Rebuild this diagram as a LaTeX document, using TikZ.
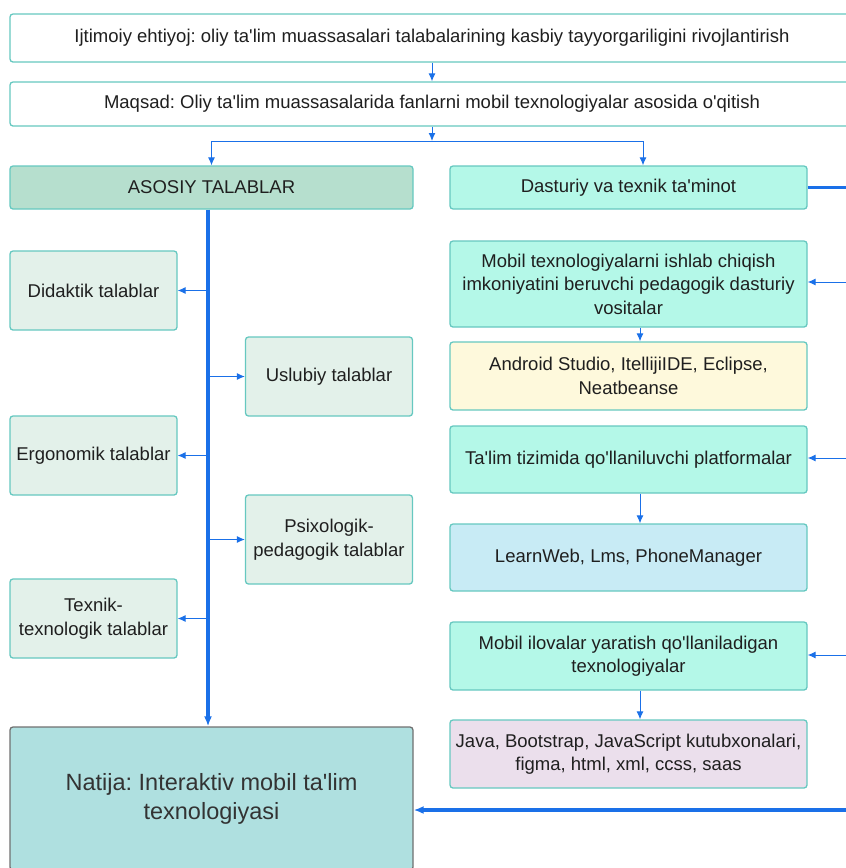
\documentclass[tikz,border=0pt]{standalone}
\usepackage{fontspec}
\setmainfont{Liberation Sans}[Ligatures=TeXOff]
\usetikzlibrary{positioning,arrows.meta}
\frenchspacing

\definecolor{tealline}{RGB}{102,200,192}
\definecolor{asosfill}{RGB}{182,223,206}
\definecolor{mintfill}{RGB}{180,248,232}
\definecolor{reqfill}{RGB}{227,241,234}
\definecolor{yellowfill}{RGB}{254,249,220}
\definecolor{skyfill}{RGB}{200,235,245}
\definecolor{lilacfill}{RGB}{235,223,236}
\definecolor{resfill}{RGB}{175,224,224}
\definecolor{resline}{RGB}{112,112,112}
\definecolor{linkblue}{RGB}{26,112,232}

\begin{document}
\begin{tikzpicture}[
  x=1pt, y=-1pt,
  every node/.style={font=\fontsize{18.5}{23.5}\selectfont, text=black!88},
  box/.style={draw=tealline, line width=1.3pt, rounded corners=3pt, align=center, inner sep=2pt},
  topbox/.style={box, fill=white, minimum width=844pt, minimum height=48pt},
  headbox/.style={box, minimum height=43pt},
  reqbox/.style={box, fill=reqfill, minimum width=167pt, minimum height=79pt},
  techbox/.style={box, minimum width=357pt, minimum height=68pt},
  arr/.style={-{Latex[length=8pt,width=7pt]}, line width=1pt, draw=linkblue},
  spine/.style={line width=3.2pt, draw=linkblue},
  spinearr/.style={spine, -{Latex[length=10pt,width=8pt]}}
]
\useasboundingbox (0,0) rectangle (846,868);
\clip (0,0) rectangle (846,868);

% Top: need and goal
\node[topbox] (need) at (432,38) {Ijtimoiy ehtiyoj: oliy ta'lim muassasalari talabalarining kasbiy tayyorgariligini rivojlantirish};
\node[topbox, below=18.7pt of need, minimum height=44pt] (goal) {Maqsad: Oliy ta'lim muassasalarida fanlarni mobil texnologiyalar asosida o'qitish};
\coordinate (split) at (432,141);

% Two main branches
\node[headbox, fill=asosfill, minimum width=403pt] (asosiy) at (211.5,187.5) {ASOSIY TALABLAR};
\node[headbox, fill=mintfill, right=35.7pt of asosiy, minimum width=357pt] (dastur) {Dasturiy va texnik ta'minot};

% Left column: requirements
\node[reqbox] (didaktik) at (93.5,290.5) {Didaktik talablar};
\node[reqbox, below=84.7pt of didaktik] (ergonomik) {Ergonomik talablar};
\node[reqbox, below=82.7pt of ergonomik] (texnik) {Texnik-\\texnologik talablar};
\node[reqbox] (uslubiy) at (329,376.5) {Uslubiy talablar};
\node[reqbox, below=77.7pt of uslubiy, minimum height=89pt] (psixo) {Psixologik-\\pedagogik talablar};

% Result
\node[box, draw=resline, fill=resfill, minimum width=403pt, minimum height=143pt, text=black!80,
  font=\fontsize{23.5}{29}\selectfont] (natija) at (211.5,798.5) {Natija: Interaktiv mobil ta'lim\\texnologiyasi};

% Right column: software and tools
\node[techbox, fill=mintfill, minimum height=86pt] (mobdev) at (628.5,284) {Mobil texnologiyalarni ishlab chiqish\\imkoniyatini beruvchi pedagogik dasturiy\\vositalar};
\node[techbox, fill=yellowfill, below=13.7pt of mobdev] (android) {Android Studio, ItellijiIDE, Eclipse,\\Neatbeanse};
\node[techbox, fill=mintfill, below=14.7pt of android, minimum height=67pt] (platform) {Ta'lim tizimida qo'llaniluvchi platformalar};
\node[techbox, fill=skyfill, below=29.7pt of platform, minimum height=67pt] (learnweb) {LearnWeb, Lms, PhoneManager};
\node[techbox, fill=mintfill, below=29.7pt of learnweb] (ilova) {Mobil ilovalar yaratish qo'llaniladigan\\texnologiyalar};
\node[techbox, fill=lilacfill, below=28.7pt of ilova] (java) {Java, Bootstrap, JavaScript kutubxonalari,\\figma, html, xml, ccss, saas};

% Free ends at the right edge
\coordinate (outtop) at (846,187.5);
\coordinate (in1) at (846,282);
\coordinate (in2) at (846,458);
\coordinate (in3) at (846,655);
\coordinate (inres) at (846,810);

% Top arrows
\draw[arr] (need) -- (goal);
\draw[arr] (goal.south) -- (split);
\draw[arr] (split) -| (asosiy.north);
\draw[arr] (split) -| ([xshift=14.5pt]dastur.north);

% Spine of requirements
\draw[spinearr] ([xshift=-3.5pt]asosiy.south) -- ([xshift=-3.5pt]natija.north);
\draw[arr] ([xshift=-3.5pt]asosiy.south |- didaktik.east) -- (didaktik.east);
\draw[arr] ([xshift=-3.5pt]asosiy.south |- ergonomik.east) -- (ergonomik.east);
\draw[arr] ([xshift=-3.5pt]asosiy.south |- texnik.east) -- (texnik.east);
\draw[arr] ([xshift=-3.5pt]asosiy.south |- uslubiy.west) -- (uslubiy.west);
\draw[arr] ([xshift=-3.5pt]asosiy.south |- psixo.west) -- (psixo.west);

% Right side links
\draw[spine] (dastur.east) -- (outtop);
\draw[arr] (in1) -- (in1 -| mobdev.east);
\draw[arr] (in2) -- (in2 -| platform.east);
\draw[arr] (in3) -- (in3 -| ilova.east);
\draw[arr] ([xshift=11.5pt]mobdev.south) -- ([xshift=11.5pt]android.north);
\draw[arr] ([xshift=11.5pt]platform.south) -- ([xshift=11.5pt]learnweb.north);
\draw[arr] ([xshift=11.5pt]ilova.south) -- ([xshift=11.5pt]java.north);
\draw[spinearr] (inres) -- (inres -| natija.east);
\end{tikzpicture}
\end{document}
